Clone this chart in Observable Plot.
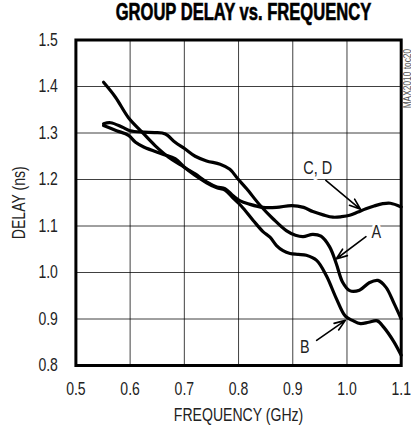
<!DOCTYPE html>
<html><head><meta charset="utf-8">
<script src="https://cdn.jsdelivr.net/npm/d3@7"></script>
<script src="https://cdn.jsdelivr.net/npm/@observablehq/plot@0.6"></script>
<style>
body{margin:0;background:#fff;}
#title{height:28px;line-height:24px;width:345px;padding-left:66px;text-align:center;white-space:nowrap;overflow:visible;}
#title span{display:inline-block;transform:scaleX(0.72);transform-origin:center;
font-family:'Liberation Sans','Arial',sans-serif;font-weight:900;font-size:23px;color:#000;-webkit-text-stroke:0.6px #000;}
svg{display:block;}
</style>
</head><body>
<div id="title"><span>GROUP DELAY vs. FREQUENCY</span></div>
<div id="chart"></div>
<script>
const xTicks = [0.5, 0.6, 0.7, 0.8, 0.9, 1.0, 1.1];
const yTicks = [0.8, 0.9, 1.0, 1.1, 1.2, 1.3, 1.4, 1.5];

const aF = [0.551,0.564,0.585,0.600,0.625,0.645,0.665,0.683,0.701,0.720,0.741,0.766,0.784,0.799,0.815,0.840,0.864,0.888,0.905,0.919,0.937,0.952,0.968,0.980,0.992,1.005,1.023,1.041,1.057,1.072,1.087,1.100];
const aD = [1.320,1.322,1.313,1.305,1.302,1.301,1.298,1.280,1.266,1.250,1.240,1.233,1.222,1.201,1.180,1.144,1.115,1.090,1.080,1.077,1.082,1.078,1.055,1.020,0.979,0.961,0.962,0.978,0.983,0.968,0.933,0.900];

const bF = [0.551,0.573,0.597,0.622,0.646,0.671,0.695,0.720,0.741,0.760,0.775,0.790,0.805,0.827,0.845,0.858,0.870,0.882,0.895,0.910,0.925,0.944,0.962,0.980,0.997,1.010,1.025,1.040,1.056,1.068,1.086,1.100];
const bD = [1.409,1.377,1.333,1.302,1.273,1.248,1.230,1.209,1.193,1.182,1.177,1.160,1.143,1.112,1.088,1.076,1.058,1.047,1.041,1.039,1.037,1.026,0.993,0.945,0.906,0.897,0.890,0.893,0.896,0.882,0.852,0.822];

const cdF = [0.551,0.575,0.597,0.610,0.625,0.659,0.683,0.701,0.720,0.741,0.760,0.775,0.790,0.803,0.820,0.845,0.870,0.898,0.920,0.937,0.956,0.974,0.990,1.005,1.020,1.035,1.050,1.066,1.080,1.100];
const cdD = [1.316,1.305,1.295,1.280,1.270,1.255,1.245,1.226,1.212,1.195,1.184,1.180,1.165,1.154,1.147,1.140,1.140,1.144,1.140,1.131,1.124,1.119,1.120,1.123,1.130,1.137,1.143,1.148,1.149,1.141];

const labels = ["C, D", "A", "B"];
const labelF = [0.946, 1.054, 0.922];
const labelD = [1.226, 1.088, 0.839];
const arrowF1 = [0.961, 1.035, 0.944];
const arrowD1 = [1.198, 1.077, 0.854];
const arrowF2 = [1.025, 0.980, 0.997];
const arrowD2 = [1.136, 1.029, 0.897];

const code = "MAX2010 toc20";

const rows = [];
aF.forEach((f, i) => rows.push({f, d: aD[i], s: "A"}));
bF.forEach((f, i) => rows.push({f, d: bD[i], s: "B"}));
cdF.forEach((f, i) => rows.push({f, d: cdD[i], s: "CD"}));
const ann = labels.map((t, i) => ({t, f: labelF[i], d: labelD[i], f1: arrowF1[i], d1: arrowD1[i], f2: arrowF2[i], d2: arrowD2[i]}));

const font = "'Liberation Sans','Arial',sans-serif";
const chart = Plot.plot({
  width: 411, height: 399,
  marginTop: 11.5, marginBottom: 62, marginLeft: 75.4, marginRight: 10.3,
  style: {fontFamily: font, fontSize: "18.5px", background: "white", color: "#222"},
  x: {domain: [0.5, 1.1], ticks: xTicks, tickFormat: d3.format(".1f"), tickSize: 0, tickPadding: 16, label: null},
  y: {domain: [0.8, 1.5], ticks: yTicks, tickFormat: d3.format(".1f"), tickSize: 0, tickPadding: 18, label: null},
  marks: [
    Plot.ruleX(xTicks, {stroke: "#000", strokeWidth: 1, strokeOpacity: 0.75}),
    Plot.ruleY(yTicks, {stroke: "#000", strokeWidth: 1, strokeOpacity: 0.75}),
    Plot.frame({stroke: "#000", strokeWidth: 3}),
    Plot.line(rows, {x: "f", y: "d", z: "s", stroke: "#000", strokeWidth: 3.2, curve: "catmull-rom"}),
    Plot.arrow(ann, {x1: "f1", y1: "d1", x2: "f2", y2: "d2", stroke: "#000", strokeWidth: 1.6, headLength: 11, headAngle: 40}),
    Plot.text(ann, {x: "f", y: "d", text: "t", fontSize: 19, fill: "#222", stroke: "white", strokeWidth: 7, paintOrder: "stroke"}),
    Plot.text([code], {x: [1.1], y: [1.417], dx: 6, rotate: -90, fontSize: 11, fill: "#555"}),
    Plot.text(["FREQUENCY (GHz)"], {frameAnchor: "bottom", lineAnchor: "middle", textAnchor: "middle", dy: 50, fontSize: 18.5, fill: "#222"}),
    Plot.text(["DELAY (ns)"], {frameAnchor: "left", lineAnchor: "middle", textAnchor: "middle", dx: -57, rotate: -90, fontSize: 18.5, fill: "#222"})
  ]
});
document.getElementById("chart").appendChild(chart);
// condense the glyphs to imitate the reference's narrow typeface
chart.querySelectorAll("text").forEach(t => {
  const len = t.getComputedTextLength();
  if (len > 0) {
    t.setAttribute("textLength", (len * 0.76).toFixed(1));
    t.setAttribute("lengthAdjust", "spacingAndGlyphs");
  }
});
</script>
</body></html>
